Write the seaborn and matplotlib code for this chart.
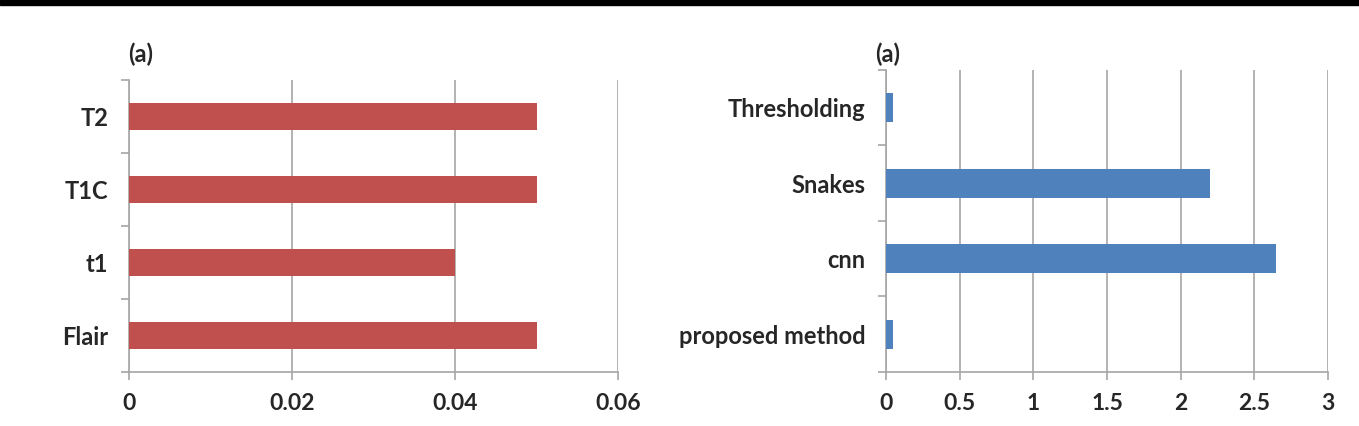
import matplotlib
matplotlib.use("Agg")
import matplotlib.pyplot as plt
import seaborn as sns
import pandas as pd
import numpy as np
from matplotlib.patches import Rectangle

sns.set_theme(style="white")
plt.rcParams['font.family'] = ['Lato', 'DejaVu Sans']

# --- data ---
seq_labels = ['T2', 'T1C', 't1', 'Flair']
seq_values = [0.05, 0.05, 0.04, 0.05]

method_labels = ['Thresholding', 'Snakes', 'cnn', 'proposed method']
method_values = [0.05, 2.2, 2.65, 0.05]

left_ticks = [0, 0.02, 0.04, 0.06]
right_ticks = [0, 0.5, 1, 1.5, 2, 2.5, 3]

grid_col = '#a6a6a6'
txt_col = '#262626'

fig = plt.figure(figsize=(13.59, 4.26), dpi=100)
fig.patches.append(Rectangle((0, 0.988), 1, 0.012, transform=fig.transFigure,
                             color='black', zorder=10))

ax1 = fig.add_axes([0.0949, 0.1268, 0.3600, 0.6854])
ax2 = fig.add_axes([0.6520, 0.1268, 0.3252, 0.7090])


def style_panel(ax, labels, values, ticks, color):
    df = pd.DataFrame({'label': labels, 'value': values})
    sns.barplot(data=df, x='value', y='label', color=color, width=0.38,
                saturation=1, linewidth=0, ax=ax, zorder=3)
    ax.set_xlim(ticks[0], ticks[-1])
    ax.set_ylim(len(labels) - 0.5, -0.5)
    ax.set_xticks(ticks)
    ax.set_xticklabels([f'{t:g}' for t in ticks], fontsize=16.5, fontweight='bold',
                       color=txt_col)
    ax.set_yticks(range(len(labels)))
    ax.set_yticklabels(labels, fontsize=17, fontweight='bold', color=txt_col)
    ax.set_yticks(np.arange(-0.5, len(labels)), minor=True)
    ax.tick_params(axis='y', which='major', length=0, pad=15)
    ax.tick_params(axis='y', which='minor', length=6, color=grid_col, width=1.2,
                   direction='out', left=True)
    ax.tick_params(axis='x', which='major', length=6, color=grid_col, width=1.2,
                   direction='out', bottom=True, pad=9)
    ax.grid(axis='x', color=grid_col, linewidth=1.2, zorder=0)
    ax.grid(axis='y', visible=False)
    ax.set_axisbelow(True)
    for side in ['top', 'right']:
        ax.spines[side].set_visible(False)
    for side in ['left', 'bottom']:
        ax.spines[side].set_color(grid_col)
        ax.spines[side].set_linewidth(1.2)
    ax.set_xlabel('')
    ax.set_ylabel('')


style_panel(ax1, seq_labels, seq_values, left_ticks, '#C0504D')
style_panel(ax2, method_labels, method_values, right_ticks, '#4F81BD')

fig.text(0.094, 0.855, '(a)', fontsize=17, fontweight='bold', color=txt_col)
fig.text(0.644, 0.855, '(a)', fontsize=17, fontweight='bold', color=txt_col)

fig.savefig('out.png', dpi=100)
